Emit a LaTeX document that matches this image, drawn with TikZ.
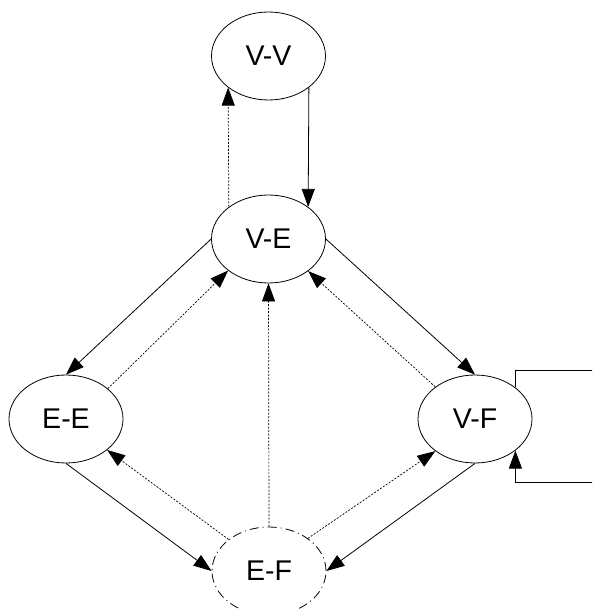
\documentclass[tikz,border=0pt]{standalone}
\usepackage{fontspec}
\setmainfont{Liberation Sans}
\usetikzlibrary{shapes.geometric,arrows.meta}
\begin{document}
\begin{tikzpicture}[x=1pt,y=-1pt,
  state/.style={ellipse,draw,line width=0.8pt,minimum width=114pt,minimum height=88pt,
    inner sep=0pt,font=\fontsize{28.5}{32}\selectfont},
  ghost/.style={state,dash pattern=on 9pt off 4pt on 1pt off 4pt},
  tip/.style={-{Triangle[length=18pt,width=13pt]}},
  solidarrow/.style={tip,line width=0.8pt},
  dottedarrow/.style={tip,line width=0.7pt,dash pattern=on 2pt off 1.5pt}]
\useasboundingbox (0,0) rectangle (592,609);
\clip (0,0) rectangle (592,609);

% states
\node[state] (vv) at (268.5,56) {V-V};
\node[state] (ve) at (268.5,239) {V-E};
\node[state] (ee) at (66,419) {E-E};
\node[state] (vf) at (475,419) {V-F};
\node[ghost] (ef) at (269,571) {E-F};

% corners of the self-loop on V-F
\coordinate (loopA) at (600,370);
\coordinate (loopB) at (600,482);

% solid transitions
\draw[solidarrow] (vv.-38) -- (ve.39);
\draw[solidarrow] (ve.west) -- (ee.north);
\draw[solidarrow] (ve.east) -- (vf.north);
\draw[solidarrow] (ee.south) -- (ef.west);
\draw[solidarrow] (vf.south) -- (ef.east);
\draw[solidarrow] (vf.38) |- (loopA) -- (loopB) -| (vf.-38);

% dotted transitions
\draw[dottedarrow] (ve.141) -- (vv.218);
\draw[dottedarrow] (ee.36) -- (ve.218);
\draw[dottedarrow] (vf.141) -- (ve.321);
\draw[dottedarrow] (ef.142) -- (ee.323);
\draw[dottedarrow] (ef.40) -- (vf.219);
\draw[dottedarrow] (ef.north) -- (ve.south);
\end{tikzpicture}
\end{document}
